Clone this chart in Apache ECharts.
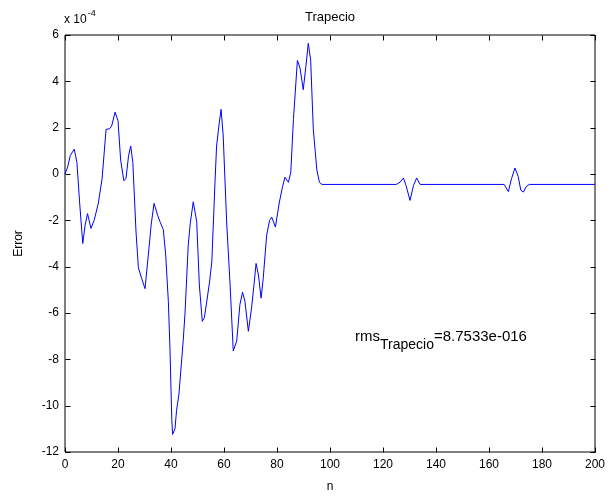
<!DOCTYPE html>
<html>
<head>
<meta charset="utf-8">
<script src="https://cdn.jsdelivr.net/npm/echarts@6/dist/echarts.min.js"></script>
<style>
html,body{margin:0;padding:0;background:#fff;}
#c{width:610px;height:498px;}
</style>
</head>
<body>
<div id="c"></div>
<script>
// Data (error in units of 1e-4)
var nVals = [0,1,2,3.5,4.5,5.5,6.7,7.6,8.5,9.8,11,12.5,14,15.5,16.8,17.6,18.9,20,21,22.2,23,24,24.8,25.6,26.8,27.7,28.9,30.2,30.7,31.8,32.5,33.6,35,36,37.1,38,39,39.6,40.3,40.6,41.5,42.1,43,44.6,45.3,46.5,47.3,48.4,49.7,50.7,51.8,52.6,53.5,54.5,55.4,56.6,57.2,58.2,58.9,59.7,61,62.3,63.5,64.8,66,67,67.9,69.2,70.4,71.3,72.1,73,74,74.8,76.1,77.2,78,79.4,80.9,82,83,84.3,85.2,86.2,87.7,88.7,89.9,90.9,91.8,92.7,93.7,95,96,97,125,126.5,127.7,128.7,130.2,131.5,132.7,134,165.7,167.3,168.5,169.8,171,172,173,174,175.2,200];
var errVals = [0,0.3,0.8,1.07,0.5,-1.2,-3.0,-2.2,-1.71,-2.35,-2.0,-1.3,-0.2,1.93,1.95,2.07,2.67,2.3,0.6,-0.29,-0.2,0.8,1.21,0.5,-2.5,-4.05,-4.5,-4.95,-4.9,-3.07,-2.2,-1.27,-1.8,-2.1,-2.4,-3.5,-5.5,-7.5,-10.6,-11.24,-11.0,-10.2,-9.5,-7.2,-6.0,-3.07,-2.1,-1.2,-2.06,-4.79,-6.36,-6.2,-5.5,-4.7,-3.79,-0.36,1.21,2.2,2.79,1.64,-2.07,-4.79,-7.64,-7.2,-5.64,-5.1,-5.5,-6.79,-5.79,-4.8,-3.86,-4.36,-5.36,-4.5,-2.64,-2.0,-1.86,-2.29,-1.21,-0.6,-0.14,-0.36,0.07,2.36,4.9,4.57,3.64,4.64,5.64,4.93,1.93,0.21,-0.36,-0.45,-0.45,-0.35,-0.17,-0.5,-1.14,-0.5,-0.17,-0.45,-0.45,-0.76,-0.2,0.26,-0.1,-0.7,-0.78,-0.55,-0.45,-0.45];
var xTicks = [0,20,40,60,80,100,120,140,160,180,200];
var yTicks = [-12,-10,-8,-6,-4,-2,0,2,4,6];
var titleText = 'Trapecio';
var xName = 'n';
var yName = 'Error';
var rmsLabel = 'rms';
var rmsSub = 'Trapecio';
var rmsValue = '=8.7533e-016';
var expText = 'x 10';
var expSup = '-4';

var FONT = 'Liberation Sans, Arial, sans-serif';
var TICK_LEN = 5;
var chart = echarts.init(document.getElementById('c'));
var pts = nVals.map(function(n,i){return [n, errVals[i]];});
var xMin = xTicks[0], xMax = xTicks[xTicks.length-1];
var yMin = yTicks[0], yMax = yTicks[yTicks.length-1];

// Tick positions on the four sides of the box (side: 0 bottom, 1 top, 2 left, 3 right)
var tickData = [];
xTicks.forEach(function(v){ tickData.push([v, yMin, 0]); tickData.push([v, yMax, 1]); });
yTicks.forEach(function(v){ tickData.push([xMin, v, 2]); tickData.push([xMax, v, 3]); });

function renderTick(params, api){
  var p = api.coord([api.value(0), api.value(1)]);
  var side = api.value(2);
  var x1 = Math.round(p[0]) + 0.5, y1 = Math.round(p[1]) + 0.5, x2 = x1, y2 = y1;
  if (side === 0) y2 = y1 - TICK_LEN;
  else if (side === 1) y2 = y1 + TICK_LEN;
  else if (side === 2) x2 = x1 + TICK_LEN;
  else x2 = x1 - TICK_LEN;
  return {type:'line', shape:{x1:x1, y1:y1, x2:x2, y2:y2}, style:{stroke:'#000', lineWidth:1}};
}

chart.setOption({
  animation:false,
  backgroundColor:'#fff',
  grid:{left:65, right:15, top:35, bottom:43, show:true, borderColor:'#000', borderWidth:1, backgroundColor:'transparent'},
  xAxis:{type:'value', min:xMin, max:xMax, interval:20, position:'bottom',
     axisLine:{show:false, onZero:false}, axisTick:{show:false}, splitLine:{show:false},
     axisLabel:{color:'#000', fontFamily:FONT, fontSize:12, margin:7},
     name:xName, nameLocation:'middle', nameGap:29, nameTextStyle:{color:'#000', fontFamily:FONT, fontSize:12}},
  yAxis:{type:'value', min:yMin, max:yMax, interval:2, position:'left',
     axisLine:{show:false, onZero:false}, axisTick:{show:false}, splitLine:{show:false},
     axisLabel:{color:'#000', fontFamily:FONT, fontSize:12, margin:6},
     name:yName, nameLocation:'middle', nameGap:40, nameRotate:90, nameTextStyle:{color:'#000', fontFamily:FONT, fontSize:12}},
  series:[
    {type:'line', data:pts, showSymbol:false, smooth:false,
     lineStyle:{color:'#0000ff', width:1}, z:2},
    {type:'custom', data:tickData, renderItem:renderTick, clip:false, silent:true,
     encode:{x:0, y:1}, z:3}
  ],
  graphic:[
    {type:'text', x:330, y:11, style:{
      text:titleText, align:'center', verticalAlign:'top',
      font:'13px ' + FONT, fill:'#000'
    }},
    {type:'text', left:64, top:9, style:{
      text:'{a|'+expText+'}{s|'+expSup+'}',
      rich:{a:{fontFamily:FONT, fontSize:12, fill:'#000', verticalAlign:'bottom'},
            s:{fontFamily:FONT, fontSize:9, fill:'#000', verticalAlign:'top', padding:[0,0,8,1]}}
    }},
    {type:'text', left:355, top:329, style:{
      text:'{a|'+rmsLabel+'}{s|'+rmsSub+'}{a|'+rmsValue+'}',
      rich:{a:{fontFamily:FONT, fontSize:15, fill:'#000', verticalAlign:'top'},
            s:{fontFamily:FONT, fontSize:14, fill:'#000', verticalAlign:'bottom', padding:[9,0,0,0]}}
    }}
  ]
});
</script>
</body>
</html>
